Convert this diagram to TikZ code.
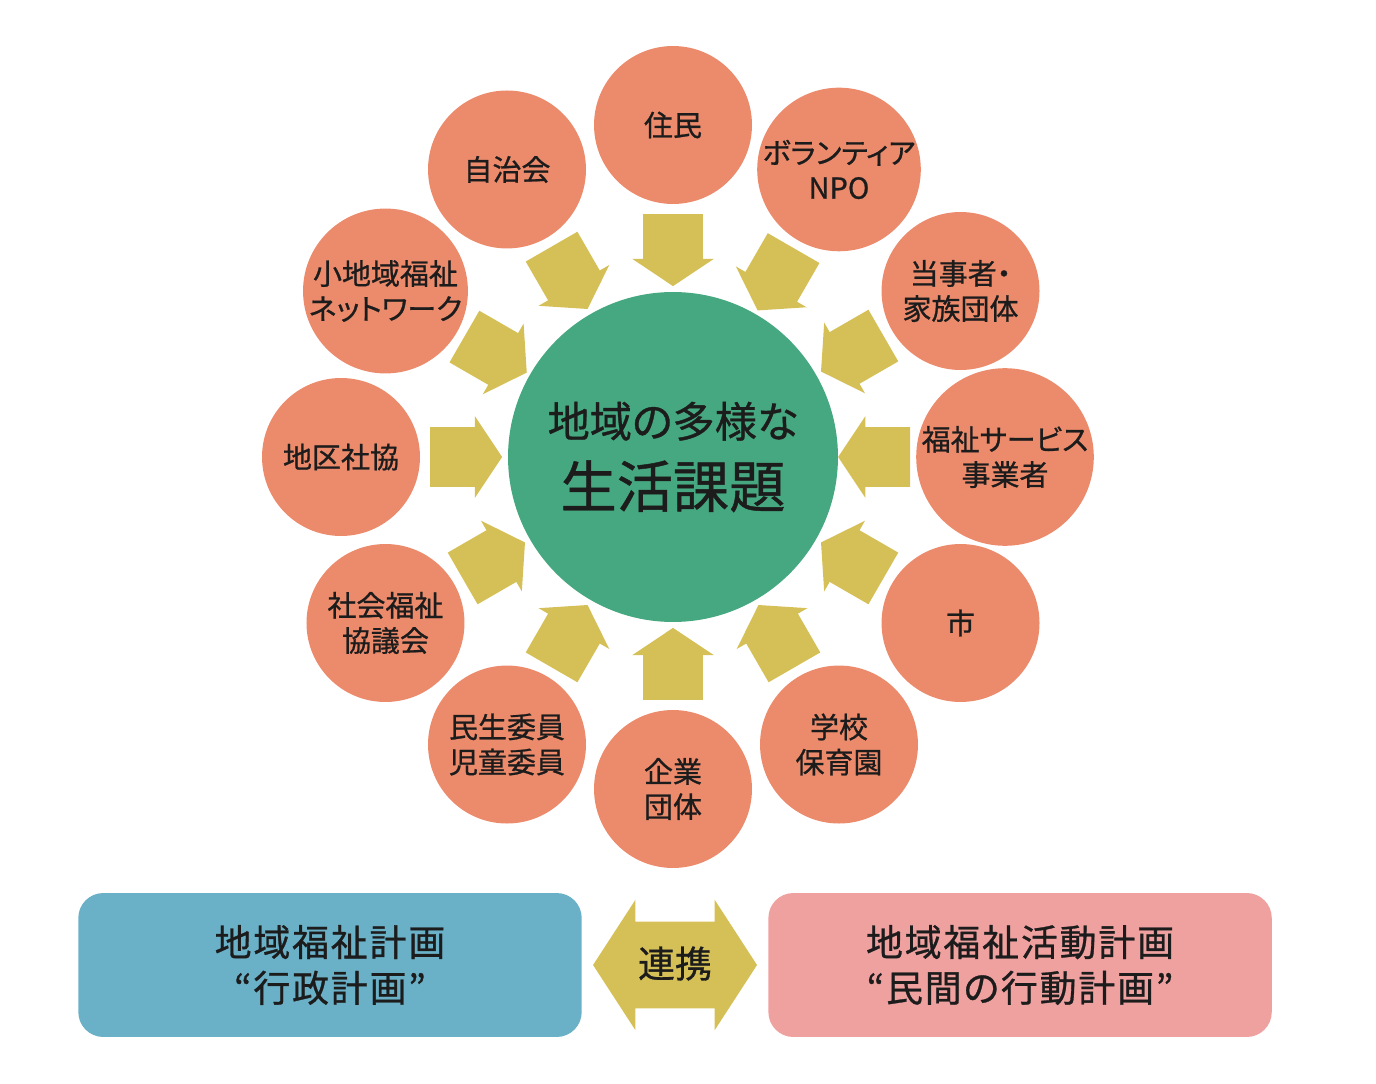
\documentclass[tikz,border=0pt]{standalone}
\usepackage{fontspec}
\newfontfamily\jp[RawFeature=+palt,FakeBold=0.8]{Noto Sans CJK JP}
\newfontfamily\jpwide[RawFeature=+palt,LetterSpace=5,FakeBold=0.8]{Noto Sans CJK JP}
\usetikzlibrary{shapes.arrows, positioning}
\usepackage{xcolor}
\definecolor{salmon}{RGB}{236,139,108}
\definecolor{hubgreen}{RGB}{70,168,128}
\definecolor{arryellow}{RGB}{213,192,88}
\definecolor{planblue}{RGB}{106,177,199}
\definecolor{planpink}{RGB}{239,161,160}
\definecolor{ink}{RGB}{28,28,28}

\begin{document}
\begin{tikzpicture}[x=0.02cm,y=-0.02cm,font=\jp,text=ink,
    member/.style={circle,fill=salmon,minimum size=3.16cm,inner sep=0pt,align=center,font=\jp\fontsize{16.5}{20}\selectfont},
    hub/.style={circle,fill=hubgreen,minimum size=6.6cm,inner sep=0pt,align=center,font=\jp\fontsize{32}{40}\selectfont},
    plan/.style={rounded corners=0.5cm,minimum width=10.07cm,minimum height=2.88cm,align=center,font=\jpwide\fontsize{21}{26}\selectfont},
    inarr/.style={single arrow,fill=arryellow,inner xsep=0pt,inner ysep=0.59cm,minimum height=1.44cm,minimum width=1.62cm,
      single arrow head extend=0.22cm,single arrow tip angle=112.6,sloped,allow upside down},
    linkarr/.style={double arrow,fill=arryellow,inner xsep=0pt,inner ysep=0.49cm,text height=0.62cm,text depth=0.12cm,
      minimum height=3.28cm,minimum width=2.6cm,double arrow head extend=0.44cm,double arrow tip angle=114,
      font=\jp\fontsize{21}{25}\selectfont}]
    \useasboundingbox (0,0) rectangle (1376,1084);
    \node[hub](hub) at (673,457){{\fontsize{24}{40}\selectfont 地域の多様な}\\生活課題};
    % twelve members round the hub
    \foreach \a/\n/\t in {90/jumin/{住民},60/npo/{ボランティア\\NPO},30/tojisha/{当事者・\\家族団体},
        0/jigyosha/{福祉サービス\\事業者},-30/shi/{市},-60/gakko/{学校\\保育園},-90/kigyo/{企業\\団体},
        -120/minsei/{民生委員\\児童委員},-150/shakyo/{社会福祉\\協議会},180/chiku/{地区社協},
        150/shochiiki/{小地域福祉\\ネットワーク},120/jichikai/{自治会}}{
      \node[member](\n) at ({673+332*cos(\a)},{457-332*sin(\a)}){\t};
      \path(\n)--node[inarr,pos=0.41]{}(hub);
    }
    \node[plan,fill=planblue](gyosei) at (330,965){地域福祉計画\\“行政計画”};
    \node[plan,fill=planpink,right=3.72cm of gyosei](minkan){地域福祉活動計画\\“民間の行動計画”};
    \path(gyosei)--node[linkarr]{連携}(minkan);
\end{tikzpicture}
\end{document}
